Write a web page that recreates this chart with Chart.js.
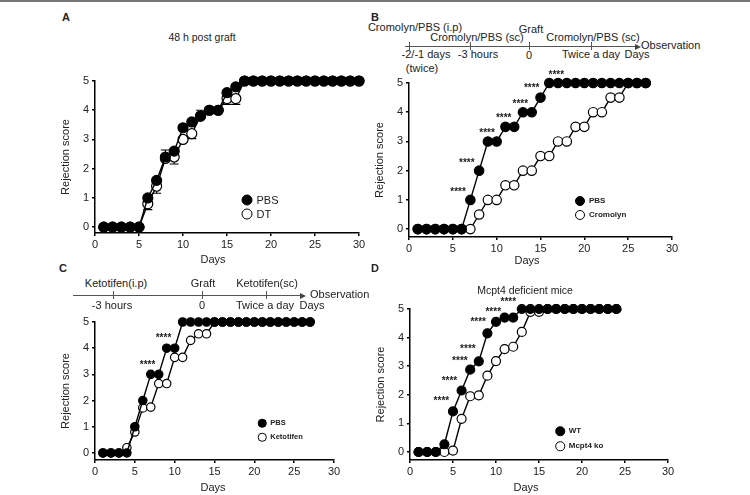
<!DOCTYPE html>
<html>
<head>
<meta charset="utf-8">
<script src="https://cdn.jsdelivr.net/npm/chart.js@4.4.1/dist/chart.umd.min.js"></script>
<style>
  body { margin: 0; background: #fff; font-family: "Liberation Sans", Arial, sans-serif; color: #222; }
  #page { position: relative; width: 750px; height: 495px; overflow: hidden; }
  #topline { position: absolute; left: 0; top: 0; width: 750px; height: 2px; background: #777; }
  .t { position: absolute; white-space: nowrap; transform: translate(-50%, -50%); font-size: 11px; line-height: 1; }
  .tl { position: absolute; white-space: nowrap; transform: translate(0, -50%); font-size: 11px; line-height: 1; }
  .panel { position: absolute; }
  .hline { position: absolute; height: 0; border-top: 1px solid #555; }
  .vtick { position: absolute; width: 0; border-left: 1px solid #555; }
  .arrow { position: absolute; width: 0; height: 0; border-top: 3px solid transparent; border-bottom: 3px solid transparent; border-left: 6px solid #444; }
  .dot { position: absolute; border-radius: 50%; box-sizing: border-box; transform: translate(-50%, -50%); }
</style>
</head>
<body>
<div id="page">
  <div id="topline"></div>
</div>
<script>
// ---- data ----
const X_TICKS = [0, 5, 10, 15, 20, 25, 30];
const Y_TICKS = [0, 1, 2, 3, 4, 5];

// A: 48 h post graft
const DAYS_A = [1, 2, 3, 4, 5, 6, 7, 8, 9, 10, 11, 12, 13, 14, 15, 16, 17, 18, 19, 20, 21, 22, 23, 24, 25, 26, 27, 28, 29, 30];
const A_PBS = [0, 0, 0, 0, 0, 1.0, 1.6, 2.4, 2.6, 3.4, 3.6, 3.8, 4.0, 4.0, 4.6, 4.8, 5, 5, 5, 5, 5, 5, 5, 5, 5, 5, 5, 5, 5, 5];
const A_DT = [0, 0, 0, 0, 0, 0.8, 1.4, 2.35, 2.4, 3.0, 3.2, 3.8, 4.0, 4.0, 4.4, 4.4, 5, 5, 5, 5, 5, 5, 5, 5, 5, 5, 5, 5, 5, 5];
const A_PBS_ERR = [0, 0, 0, 0, 0, 0, 0, 0.24, 0, 0, 0, 0.2, 0, 0, 0, 0, 0, 0, 0, 0, 0, 0, 0, 0, 0, 0, 0, 0, 0, 0];
const A_DT_ERR = [0, 0, 0, 0, 0, 0.2, 0.24, 0, 0.24, 0, 0.17, 0, 0, 0, 0.2, 0.2, 0, 0, 0, 0, 0, 0, 0, 0, 0, 0, 0, 0, 0, 0];

// B: Cromolyn
const DAYS_B = [1, 2, 3, 4, 5, 6, 7, 8, 9, 10, 11, 12, 13, 14, 15, 16, 17, 18, 19, 20, 21, 22, 23, 24, 25, 26, 27];
const B_PBS = [0, 0, 0, 0, 0, 0, 1, 2, 3, 3, 3.5, 3.5, 4, 4, 4.5, 5, 5, 5, 5, 5, 5, 5, 5, 5, 5, 5, 5];
const B_CROMOLYN = [0, 0, 0, 0, 0, 0, 0, 0.5, 1, 1, 1.5, 1.5, 2, 2, 2.5, 2.5, 3, 3, 3.5, 3.5, 4, 4, 4.5, 4.5, 5, 5, 5];
const B_STARS = [[5.6, 1.27], [6.6, 2.26], [8.9, 3.29], [10.8, 3.8], [12.7, 4.28], [14.0, 4.83], [16.8, 5.27]];

// C: Ketotifen
const DAYS_C = [1, 2, 3, 4, 5, 6, 7, 8, 9, 10, 11, 12, 13, 14, 15, 16, 17, 18, 19, 20, 21, 22, 23, 24, 25, 26, 27];
const C_PBS = [0, 0, 0, 0, 1, 2, 3, 3, 4, 4, 5, 5, 5, 5, 5, 5, 5, 5, 5, 5, 5, 5, 5, 5, 5, 5, 5];
const C_KETOTIFEN = [0, 0, 0, 0.2, 0.8, 1.72, 1.75, 2.65, 2.65, 3.65, 3.65, 4.3, 4.55, 4.55, 5, 5, 5, 5, 5, 5, 5, 5, 5, 5, 5, 5, 5];
const C_STARS = [[6.6, 3.36], [8.6, 4.39]];

// D: Mcpt4 deficient mice
const DAYS_D = [1, 2, 3, 4, 5, 6, 7, 8, 9, 10, 11, 12, 13, 14, 15, 16, 17, 18, 19, 20, 21, 22, 23, 24];
const D_WT = [0, 0, 0, 0.27, 1.42, 2.15, 2.88, 3.17, 4.15, 4.55, 4.7, 4.7, 5, 5, 5, 5, 5, 5, 5, 5, 5, 5, 5, 5];
const D_KO = [0, 0, 0, 0, 0.05, 1.16, 1.95, 1.98, 2.67, 3.18, 3.6, 3.68, 4.2, 4.9, 4.9, 5, 5, 5, 5, 5, 5, 5, 5, 5];
const D_STARS = [[3.65, 1.76], [4.59, 2.46], [5.8, 3.16], [6.73, 3.59], [7.93, 4.52], [9.68, 4.9], [11.43, 5.22]];

// ---- helpers ----
const page = document.getElementById('page');
const FONT = '"Liberation Sans", Arial, sans-serif';

function addEl(cls, css, text) {
  const el = document.createElement('div');
  el.className = cls;
  Object.assign(el.style, css);
  if (text !== undefined) el.textContent = text;
  page.appendChild(el);
  return el;
}

function label(x, y, text, extra = {}) {
  return addEl('t', Object.assign({ left: x + 'px', top: y + 'px' }, extra), text);
}

function labelLeft(x, y, text, extra = {}) {
  return addEl('tl', Object.assign({ left: x + 'px', top: y + 'px' }, extra), text);
}

function timeline(y, x1, x2, ticks) {
  addEl('hline', { left: x1 + 'px', top: y + 'px', width: (x2 - x1) + 'px' });
  addEl('arrow', { left: x2 + 'px', top: (y - 2.5) + 'px' });
  ticks.forEach(tx => {
    addEl('vtick', { left: tx + 'px', top: (y - 4) + 'px', height: '8px' });
  });
}

function makeLegend(items, x, y, gap, size, fontSize) {
  items.forEach(([text, filled], i) => {
    const cy = y + i * gap;
    addEl('dot', {
      left: x + 'px', top: cy + 'px', width: size + 'px', height: size + 'px',
      background: filled ? '#000' : '#fff', border: '1.2px solid #000',
    });
    labelLeft(x + size / 2 + 4, cy, text, {
      fontSize: fontSize + 'px', fontWeight: fontSize < 10 ? 'bold' : 'normal',
    });
  });
}

const errorBars = {
  id: 'errorBars',
  beforeDatasetsDraw(chart) {
    const ctx = chart.ctx;
    const yScale = chart.scales.y;
    chart.data.datasets.forEach((ds, i) => {
      if (!ds.errors) return;
      const meta = chart.getDatasetMeta(i);
      ctx.save();
      ctx.strokeStyle = '#000';
      ctx.lineWidth = 1.2;
      meta.data.forEach((pt, j) => {
        const e = ds.errors[j];
        if (!e) return;
        const y2 = yScale.getPixelForValue(ds.data[j].y + ds.errorDir * e);
        ctx.beginPath();
        ctx.moveTo(pt.x, pt.y);
        ctx.lineTo(pt.x, y2);
        ctx.moveTo(pt.x - 4.5, y2);
        ctx.lineTo(pt.x + 4.5, y2);
        ctx.stroke();
      });
      ctx.restore();
    });
  },
};

const stars = {
  id: 'stars',
  afterDatasetsDraw(chart, args, opts) {
    if (!opts.points) return;
    const ctx = chart.ctx;
    ctx.save();
    ctx.font = 'bold 10px ' + FONT;
    ctx.fillStyle = '#222';
    ctx.textAlign = 'center';
    ctx.textBaseline = 'middle';
    opts.points.forEach(([x, y]) => {
      ctx.fillText('****', chart.scales.x.getPixelForValue(x), chart.scales.y.getPixelForValue(y));
    });
    ctx.restore();
  },
};

function series(days, values, filled, radius, extra = {}) {
  return Object.assign({
    data: days.map((d, i) => ({ x: d, y: values[i] })),
    borderColor: '#000',
    borderWidth: 1.4,
    backgroundColor: filled ? '#000' : '#fff',
    pointBackgroundColor: filled ? '#000' : '#fff',
    pointBorderColor: '#000',
    pointBorderWidth: 1.2,
    pointRadius: radius,
    tension: 0,
    clip: false,
  }, extra);
}

const PAD_LEFT = 20, Y_WIDTH = 36, PAD_TOP = 25, PAD_RIGHT = 15, X_HEIGHT = 28;

function makePanel(area, yMin, datasets, starPoints) {
  const w = (area.right - area.left) + PAD_LEFT + Y_WIDTH + PAD_RIGHT;
  const h = (area.bottom - area.top) + PAD_TOP + X_HEIGHT;
  const box = addEl('panel', {
    left: (area.left - PAD_LEFT - Y_WIDTH) + 'px', top: (area.top - PAD_TOP) + 'px',
    width: w + 'px', height: h + 'px',
  });
  const canvas = document.createElement('canvas');
  canvas.width = w;
  canvas.height = h;
  box.appendChild(canvas);

  const axisGrid = { drawOnChartArea: false, drawTicks: true, tickLength: 3, color: '#000', lineWidth: 1.5 };
  const axisBorder = { display: true, color: '#000', width: 1.5 };

  return new Chart(canvas, {
    type: 'line',
    data: { datasets: datasets },
    options: {
      responsive: false,
      animation: false,
      layout: { padding: { left: PAD_LEFT, top: PAD_TOP, right: PAD_RIGHT, bottom: 0 } },
      plugins: {
        legend: { display: false },
        tooltip: { enabled: false },
        stars: { points: starPoints },
      },
      scales: {
        x: {
          type: 'linear', min: 0, max: 30,
          afterBuildTicks: s => { s.ticks = X_TICKS.map(v => ({ value: v })); },
          afterFit: s => { s.height = X_HEIGHT; },
          grid: axisGrid, border: axisBorder,
          ticks: { font: { size: 11, family: FONT }, color: '#222', padding: 2, maxRotation: 0 },
        },
        y: {
          type: 'linear', min: yMin, max: 5,
          afterBuildTicks: s => { s.ticks = Y_TICKS.map(v => ({ value: v })); },
          afterFit: s => { s.width = Y_WIDTH; },
          grid: axisGrid, border: axisBorder,
          ticks: { font: { size: 11, family: FONT }, color: '#222', padding: 3 },
          title: { display: true, text: 'Rejection score', font: { size: 11, family: FONT }, color: '#222', padding: 0 },
        },
      },
    },
    plugins: [errorBars, stars],
  });
}

// ---- panel A ----
label(66, 17, 'A', { fontWeight: 'bold' });
label(202, 37, '48 h post graft', { fontSize: '10.5px' });
makePanel({ left: 95, top: 81, right: 359, bottom: 233 }, -0.2, [
  series(DAYS_A, A_PBS, true, 5, { errors: A_PBS_ERR, errorDir: 1 }),
  series(DAYS_A, A_DT, false, 5, { errors: A_DT_ERR, errorDir: -1 }),
], null);
makeLegend([['PBS', true], ['DT', false]], 247, 200, 14, 11, 11);
label(213, 259, 'Days');

// ---- panel B ----
label(375, 17, 'B', { fontWeight: 'bold' });
label(415, 27, 'Cromolyn/PBS (i.p)');
label(477, 37, 'Cromolyn/PBS (sc)');
label(531, 29, 'Graft');
label(593, 37, 'Cromolyn/PBS (sc)');
timeline(46, 405, 635, [409, 470, 529, 591]);
labelLeft(641, 45, 'Observation');
label(426, 54, '-2/-1 days');
label(422, 68, '(twice)');
label(478, 54, '-3 hours');
label(529, 55, '0');
label(591, 54, 'Twice a day');
label(637, 54, 'Days');
makePanel({ left: 409, top: 83, right: 672, bottom: 237 }, -0.27, [
  series(DAYS_B, B_PBS, true, 4.7),
  series(DAYS_B, B_CROMOLYN, false, 4.7),
], B_STARS);
makeLegend([['PBS', true], ['Cromolyn', false]], 580, 201, 14, 10, 8);
label(527, 260, 'Days');

// ---- panel C ----
label(63, 268, 'C', { fontWeight: 'bold' });
label(116, 283, 'Ketotifen(i.p)');
label(203, 283, 'Graft');
label(267, 283, 'Ketotifen(sc)');
timeline(295, 73, 300, [113, 202, 266]);
labelLeft(310, 294, 'Observation');
label(112, 305, '-3 hours');
label(202, 305, '0');
label(265, 305, 'Twice a day');
label(312, 305, 'Days');
makePanel({ left: 95, top: 322, right: 334, bottom: 460 }, -0.27, [
  series(DAYS_C, C_PBS, true, 4.2),
  series(DAYS_C, C_KETOTIFEN, false, 4.2),
], C_STARS);
makeLegend([['PBS', true], ['Ketotifen', false]], 262, 423, 14, 8.5, 7.5);
label(213, 487, 'Days');

// ---- panel D ----
label(375, 268, 'D', { fontWeight: 'bold' });
label(525, 290, 'Mcpt4 deficient mice', { fontSize: '10.5px' });
makePanel({ left: 410, top: 309, right: 668, bottom: 460 }, -0.28, [
  series(DAYS_D, D_WT, true, 4.5),
  series(DAYS_D, D_KO, false, 4.5),
], D_STARS);
makeLegend([['WT', true], ['Mcpt4 ko', false]], 560, 431, 15, 9.5, 8);
label(526, 487, 'Days');
</script>
</body>
</html>
